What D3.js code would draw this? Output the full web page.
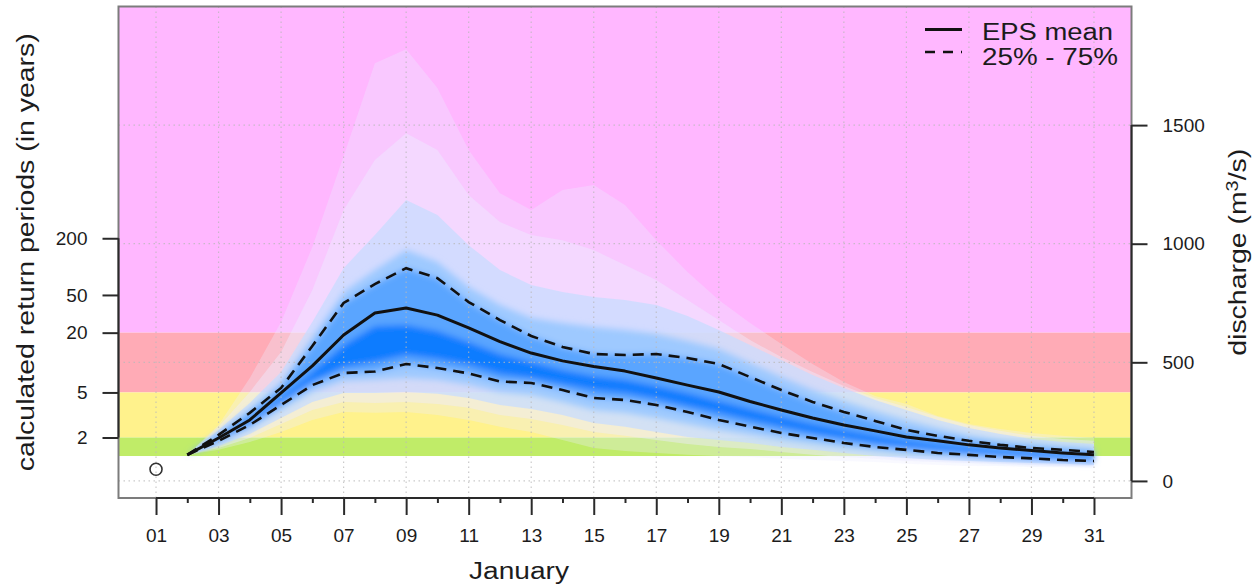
<!DOCTYPE html>
<html lang="en">
<head>
<meta charset="UTF-8">
<title>EPS discharge forecast - January</title>
<script src="https://cdn.jsdelivr.net/npm/d3@7"></script>
<style>
    body { margin: 0; background: #fff; }
    svg text { font-family: "Liberation Sans", Arial, Helvetica, sans-serif; fill: #1c1c1c; }
    .axis text { font-size: 19px; }
    .axis line { stroke: #2a2a2a; stroke-width: 2; }
    .title { font-size: 23px; }
</style>
</head>
<body>
<script>
    var w = 1255;
    var h = 587;

    // forecast days (January) and ensemble quantiles of discharge, m3/s
    var days = [2, 3, 4, 5, 6, 7, 8, 9, 10, 11, 12, 13, 14, 15, 16, 17, 18, 19, 20, 21, 22, 23, 24, 25, 26, 27, 28, 29, 30, 31];
    var epsMean = [110, 181, 257, 371, 485, 615, 708, 729, 699, 645, 587, 539, 506, 482, 463, 434, 404, 375, 335, 299, 265, 236, 211, 185, 169, 152, 139, 128, 118, 110];
    var q25 = [110, 169, 236, 320, 404, 455, 461, 493, 476, 453, 419, 413, 383, 350, 341, 320, 291, 257, 229, 202, 181, 160, 143, 131, 118, 110, 101, 95, 88, 84];
    var q75 = [110, 194, 287, 392, 569, 750, 830, 897, 855, 754, 678, 611, 565, 535, 531, 535, 518, 493, 438, 383, 333, 291, 253, 215, 190, 169, 152, 139, 131, 122];
    var q40 = [110, 169, 240, 333, 421, 480, 501, 531, 514, 489, 451, 434, 409, 383, 371, 346, 316, 287, 257, 228, 202, 181, 160, 143, 131, 118, 110, 101, 95, 91];
    var q60 = [110, 173, 249, 354, 459, 573, 653, 657, 632, 586, 535, 501, 468, 442, 426, 400, 371, 337, 303, 270, 240, 215, 190, 169, 152, 139, 126, 118, 107, 101];
    var q20 = [110, 160, 219, 299, 375, 421, 426, 434, 426, 405, 375, 362, 333, 299, 287, 265, 240, 215, 194, 173, 156, 139, 126, 114, 105, 97, 88, 84, 80, 76];
    var q80 = [110, 202, 303, 417, 607, 796, 889, 973, 923, 817, 742, 687, 666, 649, 636, 619, 590, 556, 497, 438, 383, 337, 295, 257, 223, 194, 173, 160, 147, 139];
    var q10 = [110, 147, 198, 265, 333, 371, 371, 375, 367, 350, 320, 303, 278, 244, 228, 206, 185, 173, 160, 143, 131, 118, 105, 97, 88, 84, 80, 76, 72, 67];
    var q90 = [110, 215, 329, 459, 670, 897, 1037, 1184, 1121, 994, 889, 826, 796, 775, 763, 742, 695, 636, 573, 510, 447, 392, 341, 299, 257, 223, 198, 177, 164, 156];
    var q05 = [110, 139, 181, 240, 299, 333, 329, 333, 324, 308, 278, 261, 236, 206, 190, 173, 156, 143, 135, 122, 110, 101, 93, 84, 80, 76, 72, 67, 63, 63];
    var q95 = [110, 228, 375, 544, 805, 1142, 1353, 1466, 1395, 1205, 1091, 1037, 1015, 973, 910, 847, 763, 678, 594, 522, 459, 400, 350, 312, 270, 236, 211, 190, 177, 169];
    var qMin = [110, 131, 164, 206, 257, 291, 287, 291, 278, 257, 228, 206, 173, 139, 126, 118, 110, 105, 101, 93, 88, 84, 80, 72, 67, 63, 63, 59, 59, 55];
    var qMax = [110, 236, 434, 670, 986, 1369, 1761, 1820, 1656, 1395, 1213, 1142, 1226, 1247, 1163, 1015, 881, 763, 666, 577, 493, 417, 358, 324, 274, 240, 219, 202, 190, 181];

    // observed discharge on day 01
    var obsDay = 1;
    var obsValue = 49;

    // return period thresholds
    var rpLabels = ["2", "5", "20", "50", "200"];
    var rpDischarge = [183, 373, 625, 784, 1023];
    var lowBand = 105;

    var dischargeTicks = [0, 500, 1000, 1500];
    var allDays = d3.range(1, 32);

    var plotL = 118.5, plotR = 1131.5, plotT = 6.5, plotB = 498;

    var xScale = d3.scaleLinear().domain([-0.2, 32.2]).range([plotL, plotR]);
    var yScale = d3.scaleLinear().domain([-72, 2000]).range([plotB, plotT]);

    var svg = d3.select("body")
        .append("svg")
        .attr("width", w)
        .attr("height", h);

    var defs = svg.append("defs");
    defs.append("clipPath").attr("id", "plot-clip")
        .append("rect")
        .attr("x", plotL).attr("y", plotT)
        .attr("width", plotR - plotL).attr("height", plotB - plotT);
    defs.append("filter").attr("id", "soft")
        .attr("x", "-5%").attr("y", "-20%").attr("width", "110%").attr("height", "140%")
        .append("feGaussianBlur").attr("stdDeviation", 3);

    var plot = svg.append("g").attr("clip-path", "url(#plot-clip)");

    // background bands
    var bands = [
        [rpDischarge[2], 2000, "#ffb7ff"],
        [rpDischarge[1], rpDischarge[2], "#ffabb6"],
        [rpDischarge[0], rpDischarge[1], "#fff28c"],
        [lowBand, rpDischarge[0], "#c0ec68"]
    ];
    plot.selectAll("rect.band")
        .data(bands)
        .enter()
        .append("rect")
        .attr("class", "band")
        .attr("x", plotL)
        .attr("width", plotR - plotL)
        .attr("y", function (d) { return yScale(d[1]); })
        .attr("height", function (d) { return yScale(d[0]) - yScale(d[1]); })
        .attr("fill", function (d) { return d[2]; });

    // ensemble fan
    function fan(lo, hi) {
        return d3.area()
            .x(function (d, i) { return xScale(days[i]); })
            .y0(function (d, i) { return yScale(lo[i]); })
            .y1(function (d, i) { return yScale(hi[i]); })(days);
    }

    var outer = [
        [qMin, qMax, "rgba(235,235,255,0.32)"],
        [q05, q95, "rgba(238,236,255,0.45)"],
        [q10, q90, "rgba(200,220,255,0.75)"]
    ];
    var inner = [
        [q20, q80, "rgba(155,200,255,0.95)"],
        [q25, q75, "rgb(90,165,255)"],
        [q40, q60, "rgb(8,124,255)"]
    ];

    plot.selectAll("path.outer")
        .data(outer)
        .enter()
        .append("path")
        .attr("class", "outer")
        .attr("d", function (d) { return fan(d[0], d[1]); })
        .attr("fill", function (d) { return d[2]; });

    plot.append("g").attr("filter", "url(#soft)")
        .selectAll("path")
        .data(inner)
        .enter()
        .append("path")
        .attr("d", function (d) { return fan(d[0], d[1]); })
        .attr("fill", function (d) { return d[2]; });

    // grid
    var grid = plot.append("g")
        .attr("stroke", "#b8b8b8")
        .attr("stroke-opacity", 0.75)
        .attr("stroke-width", 1.2)
        .attr("stroke-dasharray", "1.5,3.5");
    grid.selectAll("line.v")
        .data(allDays.filter(function (d) { return d % 2 === 1; }))
        .enter()
        .append("line")
        .attr("x1", function (d) { return xScale(d); })
        .attr("x2", function (d) { return xScale(d); })
        .attr("y1", plotT)
        .attr("y2", plotB);
    grid.selectAll("line.h")
        .data(dischargeTicks)
        .enter()
        .append("line")
        .attr("x1", plotL)
        .attr("x2", plotR)
        .attr("y1", function (d) { return yScale(d); })
        .attr("y2", function (d) { return yScale(d); });

    // mean and quartile lines
    function line(vals) {
        return d3.line()
            .x(function (d, i) { return xScale(days[i]); })
            .y(function (d) { return yScale(d); })(vals);
    }
    plot.append("path").attr("d", line(q75))
        .attr("fill", "none").attr("stroke", "#111").attr("stroke-width", 2.6)
        .attr("stroke-dasharray", "11,7");
    plot.append("path").attr("d", line(q25))
        .attr("fill", "none").attr("stroke", "#111").attr("stroke-width", 2.6)
        .attr("stroke-dasharray", "11,7");
    plot.append("path").attr("d", line(epsMean))
        .attr("fill", "none").attr("stroke", "#111").attr("stroke-width", 3)
        .attr("stroke-linejoin", "round");

    plot.append("circle")
        .attr("cx", xScale(obsDay))
        .attr("cy", yScale(obsValue))
        .attr("r", 6)
        .attr("fill", "none")
        .attr("stroke", "#333")
        .attr("stroke-width", 1.6);

    // frame
    svg.append("rect")
        .attr("x", plotL).attr("y", plotT)
        .attr("width", plotR - plotL).attr("height", plotB - plotT)
        .attr("fill", "none")
        .attr("stroke", "#7c7c7c")
        .attr("stroke-width", 2);

    // axes
    var xAxis = d3.axisBottom(xScale)
        .tickValues(allDays)
        .tickSize(17)
        .tickPadding(14)
        .tickFormat(function (d) { return d % 2 === 1 ? (d < 10 ? "0" + d : "" + d) : ""; });

    var gx = svg.append("g")
        .attr("class", "axis")
        .attr("transform", "translate(0," + plotB + ")")
        .call(xAxis);
    gx.select(".domain").remove();
    gx.selectAll(".tick line")
        .attr("y2", function (d) { return d % 2 === 1 ? 17 : 5; });
    gx.append("line")
        .attr("x1", xScale(1)).attr("x2", xScale(31))
        .attr("y1", 0).attr("y2", 0);

    var yLeft = d3.axisLeft(yScale)
        .tickValues(rpDischarge)
        .tickSize(16)
        .tickPadding(15)
        .tickFormat(function (d, i) { return rpLabels[i]; });
    var gl = svg.append("g")
        .attr("class", "axis")
        .attr("transform", "translate(" + plotL + ",0)")
        .call(yLeft);
    gl.select(".domain").remove();
    gl.append("line")
        .attr("y1", yScale(rpDischarge[0])).attr("y2", yScale(rpDischarge[4]));

    var yRight = d3.axisRight(yScale)
        .tickValues(dischargeTicks)
        .tickSize(16)
        .tickPadding(15)
        .tickFormat(d3.format("d"));
    var gr = svg.append("g")
        .attr("class", "axis")
        .attr("transform", "translate(" + plotR + ",0)")
        .call(yRight);
    gr.select(".domain").remove();
    gr.append("line")
        .attr("y1", yScale(0)).attr("y2", yScale(1500));

    // titles
    svg.append("text")
        .attr("class", "title")
        .attr("x", 519).attr("y", 579)
        .attr("text-anchor", "middle")
        .attr("textLength", 100)
        .attr("lengthAdjust", "spacingAndGlyphs")
        .text("January");

    svg.append("text")
        .attr("class", "title")
        .attr("transform", "translate(33.5," + ((plotT + plotB) / 2) + ") rotate(-90)")
        .attr("text-anchor", "middle")
        .attr("textLength", 438)
        .attr("lengthAdjust", "spacingAndGlyphs")
        .text("calculated return periods (in years)");

    var rt = svg.append("text")
        .attr("class", "title")
        .attr("transform", "translate(1246," + ((plotT + plotB) / 2) + ") rotate(-90)")
        .attr("text-anchor", "middle")
        .attr("textLength", 207)
        .attr("lengthAdjust", "spacingAndGlyphs");
    rt.append("tspan").text("discharge (m");
    rt.append("tspan").attr("baseline-shift", "super").attr("font-size", "16px").text("3");
    rt.append("tspan").text("/s)");

    // legend
    var legend = svg.append("g");
    legend.append("line")
        .attr("x1", 925).attr("x2", 962).attr("y1", 29.5).attr("y2", 29.5)
        .attr("stroke", "#111").attr("stroke-width", 3);
    legend.append("line")
        .attr("x1", 925).attr("x2", 962).attr("y1", 52).attr("y2", 52)
        .attr("stroke", "#111").attr("stroke-width", 2.6)
        .attr("stroke-dasharray", "10,8");
    legend.append("text")
        .attr("class", "title")
        .attr("x", 982).attr("y", 40)
        .attr("textLength", 131)
        .attr("lengthAdjust", "spacingAndGlyphs")
        .text("EPS mean");
    legend.append("text")
        .attr("class", "title")
        .attr("x", 982).attr("y", 64.5)
        .attr("textLength", 136)
        .attr("lengthAdjust", "spacingAndGlyphs")
        .text("25% - 75%");
</script>
</body>
</html>
